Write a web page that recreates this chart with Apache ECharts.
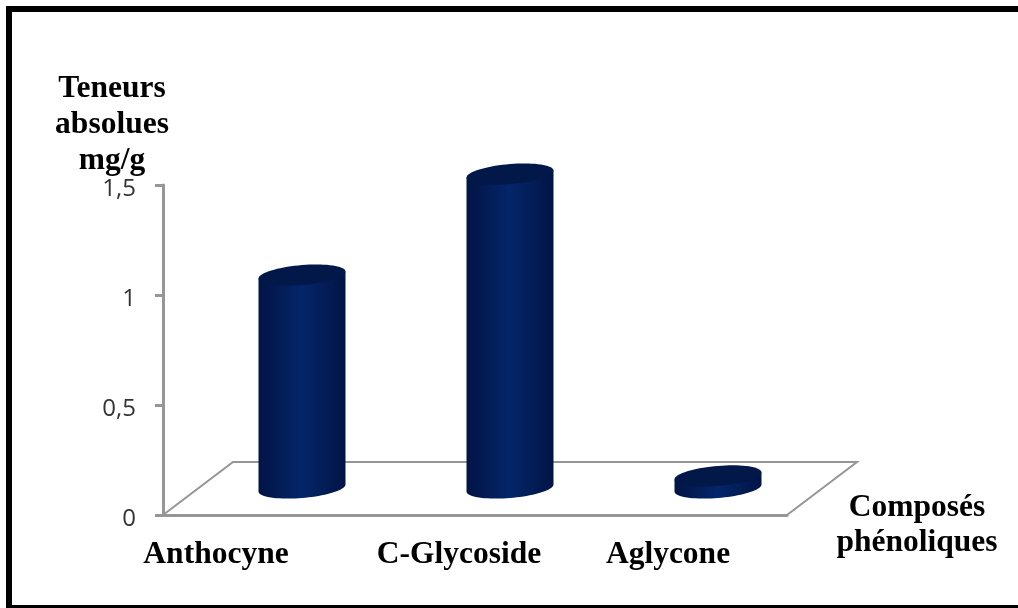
<!DOCTYPE html>
<html>
<head>
<meta charset="utf-8">
<style>
  html, body { margin: 0; padding: 0; background: #fff; }
  #chart { width: 1018px; height: 608px; }
</style>
<script src="https://cdn.jsdelivr.net/npm/echarts@6/dist/echarts.min.js"></script>
</head>
<body>
<div id="chart"></div>
<script>
// Phenolic compound contents, mg/g
const categories = ['Anthocyne', 'C-Glycoside', 'Aglycone'];
const contents = [0.968, 1.427, 0.055];
const yTicks = { min: 0, max: 1.5, interval: 0.5 };
const yTitle = 'Teneurs\nabsolues\nmg/g';
const xTitle = ['Composés', 'phénoliques'];

const serif = '"Liberation Serif", serif';
const titleSize = 31.5;
const axisGrey = '#969696';

// Floor depth in pixels and the half-depth at which the cylinders stand
const floorDepth = { dx: 70, dy: -53 };
const standOffset = { dx: 35, dy: -27 };
const radius = { a: 43.5, b: 10, tilt: 3.5 };

const chart = echarts.init(document.getElementById('chart'));

function ellipsePoint(cx, cy, t) {
  return [
    cx + radius.a * Math.cos(t),
    cy + radius.b * Math.sin(t) - radius.tilt * Math.cos(t)
  ];
}

function renderCylinder(params, api) {
  const top = api.coord([api.value(0), api.value(1)]);
  const foot = api.coord([api.value(0), 0]);
  const cx = top[0] + standOffset.dx;
  const topY = top[1] + standOffset.dy;
  const footY = foot[1] + standOffset.dy;

  const body = [];
  for (let i = 0; i <= 40; i++) {
    body.push(ellipsePoint(cx, footY, (Math.PI * i) / 40));
  }
  body.push(ellipsePoint(cx, topY, Math.PI));
  body.push(ellipsePoint(cx, topY, 0));

  const cap = [];
  for (let i = 0; i < 72; i++) {
    cap.push(ellipsePoint(cx, topY, (2 * Math.PI * i) / 72));
  }

  return {
    type: 'group',
    children: [
      {
        type: 'polygon',
        shape: { points: body },
        style: {
          fill: new echarts.graphic.LinearGradient(0, 0, 1, 0, [
            { offset: 0, color: '#021445' },
            { offset: 0.25, color: '#031d57' },
            { offset: 0.5, color: '#04256a' },
            { offset: 0.75, color: '#031d57' },
            { offset: 1, color: '#021445' }
          ])
        }
      },
      {
        type: 'polygon',
        shape: { points: cap },
        style: { fill: '#021848' }
      }
    ]
  };
}

const boldLabel = { fontFamily: serif, fontWeight: 'bold', fontSize: titleSize, color: '#000' };

chart.setOption({
  animation: false,
  backgroundColor: '#ffffff',
  grid: { left: 163, top: 185, width: 624, height: 330 },
  xAxis: {
    type: 'category',
    data: categories,
    name: '{a|' + xTitle[0] + '}\n{b|' + xTitle[1] + '}',
    nameLocation: 'end',
    nameGap: 130,
    nameMoveOverlap: false,
    nameTextStyle: {
      align: 'center',
      verticalAlign: 'middle',
      rich: {
        a: { ...boldLabel, lineHeight: 56, padding: [20, 0, 0, 0] },
        b: { ...boldLabel, lineHeight: 35 }
      }
    },
    axisTick: { show: false },
    axisLine: { lineStyle: { color: axisGrey, width: 3 } },
    axisLabel: {
      margin: 24,
      interval: 0,
      formatter: (name) => '{l' + categories.indexOf(name) + '|' + name + '}',
      rich: {
        l0: { ...boldLabel, padding: [0, 102, 0, 0] },
        l1: { ...boldLabel, padding: [0, 32, 0, 0] },
        l2: { ...boldLabel, padding: [0, 30, 0, 0] }
      }
    }
  },
  yAxis: {
    type: 'value',
    min: yTicks.min,
    max: yTicks.max,
    interval: yTicks.interval,
    name: yTitle,
    nameLocation: 'end',
    nameGap: 6,
    nameMoveOverlap: false,
    nameTextStyle: {
      ...boldLabel,
      lineHeight: 36, align: 'center', padding: [0, 102, 0, 0]
    },
    splitLine: { show: false },
    axisLine: { show: true, lineStyle: { color: axisGrey, width: 3 } },
    axisTick: { show: true, length: 8, lineStyle: { color: axisGrey, width: 3 } },
    axisLabel: {
      margin: 27,
      formatter: (v) => '{v|' + String(v).replace('.', ',') + '}',
      rich: {
        v: { fontFamily: '"Open Sans", sans-serif', fontSize: 24, color: '#333', padding: [8, 0, 0, 0] }
      }
    }
  },
  series: [
    {
      type: 'custom',
      z: 5,
      clip: false,
      renderItem: renderCylinder,
      encode: { x: 0, y: 1 },
      data: contents.map((v, i) => [i, v])
    }
  ],
  graphic: [
    // Floor outline of the plot, behind the cylinders
    {
      type: 'polyline',
      z: 1,
      shape: {
        points: [
          [163, 515],
          [163 + floorDepth.dx, 515 + floorDepth.dy],
          [787 + floorDepth.dx, 515 + floorDepth.dy],
          [787, 515]
        ]
      },
      style: { stroke: axisGrey, lineWidth: 2, fill: null }
    },
    // Page frame, running off the right and bottom edges
    {
      type: 'rect',
      z: 10,
      shape: { x: 9, y: 9, width: 1030, height: 599 },
      style: { stroke: '#000', lineWidth: 6, fill: null }
    }
  ]
});
</script>
</body>
</html>
